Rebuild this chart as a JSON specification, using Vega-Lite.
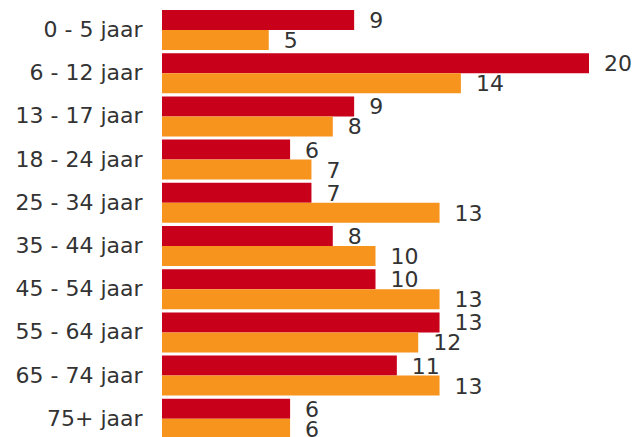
{
  "$schema": "https://vega.github.io/schema/vega-lite/v6.json",
  "width": 427,
  "height": 432,
  "autosize": {"type": "none"},
  "padding": {"left": 162, "top": 8.4, "right": 44, "bottom": 0},
  "background": "white",
  "config": {"view": {"stroke": null}},
  "data": {
    "values": [
      {"leeftijd": "0 - 5 jaar", "reeks": "A", "waarde": 9},
      {"leeftijd": "0 - 5 jaar", "reeks": "B", "waarde": 5},
      {"leeftijd": "6 - 12 jaar", "reeks": "A", "waarde": 20},
      {"leeftijd": "6 - 12 jaar", "reeks": "B", "waarde": 14},
      {"leeftijd": "13 - 17 jaar", "reeks": "A", "waarde": 9},
      {"leeftijd": "13 - 17 jaar", "reeks": "B", "waarde": 8},
      {"leeftijd": "18 - 24 jaar", "reeks": "A", "waarde": 6},
      {"leeftijd": "18 - 24 jaar", "reeks": "B", "waarde": 7},
      {"leeftijd": "25 - 34 jaar", "reeks": "A", "waarde": 7},
      {"leeftijd": "25 - 34 jaar", "reeks": "B", "waarde": 13},
      {"leeftijd": "35 - 44 jaar", "reeks": "A", "waarde": 8},
      {"leeftijd": "35 - 44 jaar", "reeks": "B", "waarde": 10},
      {"leeftijd": "45 - 54 jaar", "reeks": "A", "waarde": 10},
      {"leeftijd": "45 - 54 jaar", "reeks": "B", "waarde": 13},
      {"leeftijd": "55 - 64 jaar", "reeks": "A", "waarde": 13},
      {"leeftijd": "55 - 64 jaar", "reeks": "B", "waarde": 12},
      {"leeftijd": "65 - 74 jaar", "reeks": "A", "waarde": 11},
      {"leeftijd": "65 - 74 jaar", "reeks": "B", "waarde": 13},
      {"leeftijd": "75+ jaar", "reeks": "A", "waarde": 6},
      {"leeftijd": "75+ jaar", "reeks": "B", "waarde": 6}
    ]
  },
  "encoding": {
    "y": {
      "field": "leeftijd",
      "type": "nominal",
      "sort": null,
      "scale": {"paddingInner": 0.074, "paddingOuter": 0.037},
      "axis": {
        "title": null,
        "domain": false,
        "ticks": false,
        "labelFontSize": 22,
        "labelFont": "DejaVu Sans",
        "labelColor": "#333333",
        "labelPadding": 20
      }
    },
    "yOffset": {"field": "reeks", "sort": null, "scale": {"paddingInner": 0, "paddingOuter": 0}},
    "x": {
      "field": "waarde",
      "type": "quantitative",
      "scale": {"domain": [0, 20], "nice": false, "zero": true},
      "axis": null
    }
  },
  "layer": [
    {
      "mark": {"type": "bar"},
      "encoding": {
        "color": {"field": "reeks", "type": "nominal", "scale": {"range": ["#c8001a", "#f7941d"]}, "legend": null}
      }
    },
    {
      "mark": {"type": "text", "align": "left", "baseline": "middle", "dx": 15, "dy": 1, "fontSize": 22, "font": "DejaVu Sans", "color": "#333333"},
      "encoding": {"text": {"field": "waarde", "type": "quantitative"}}
    }
  ]
}
